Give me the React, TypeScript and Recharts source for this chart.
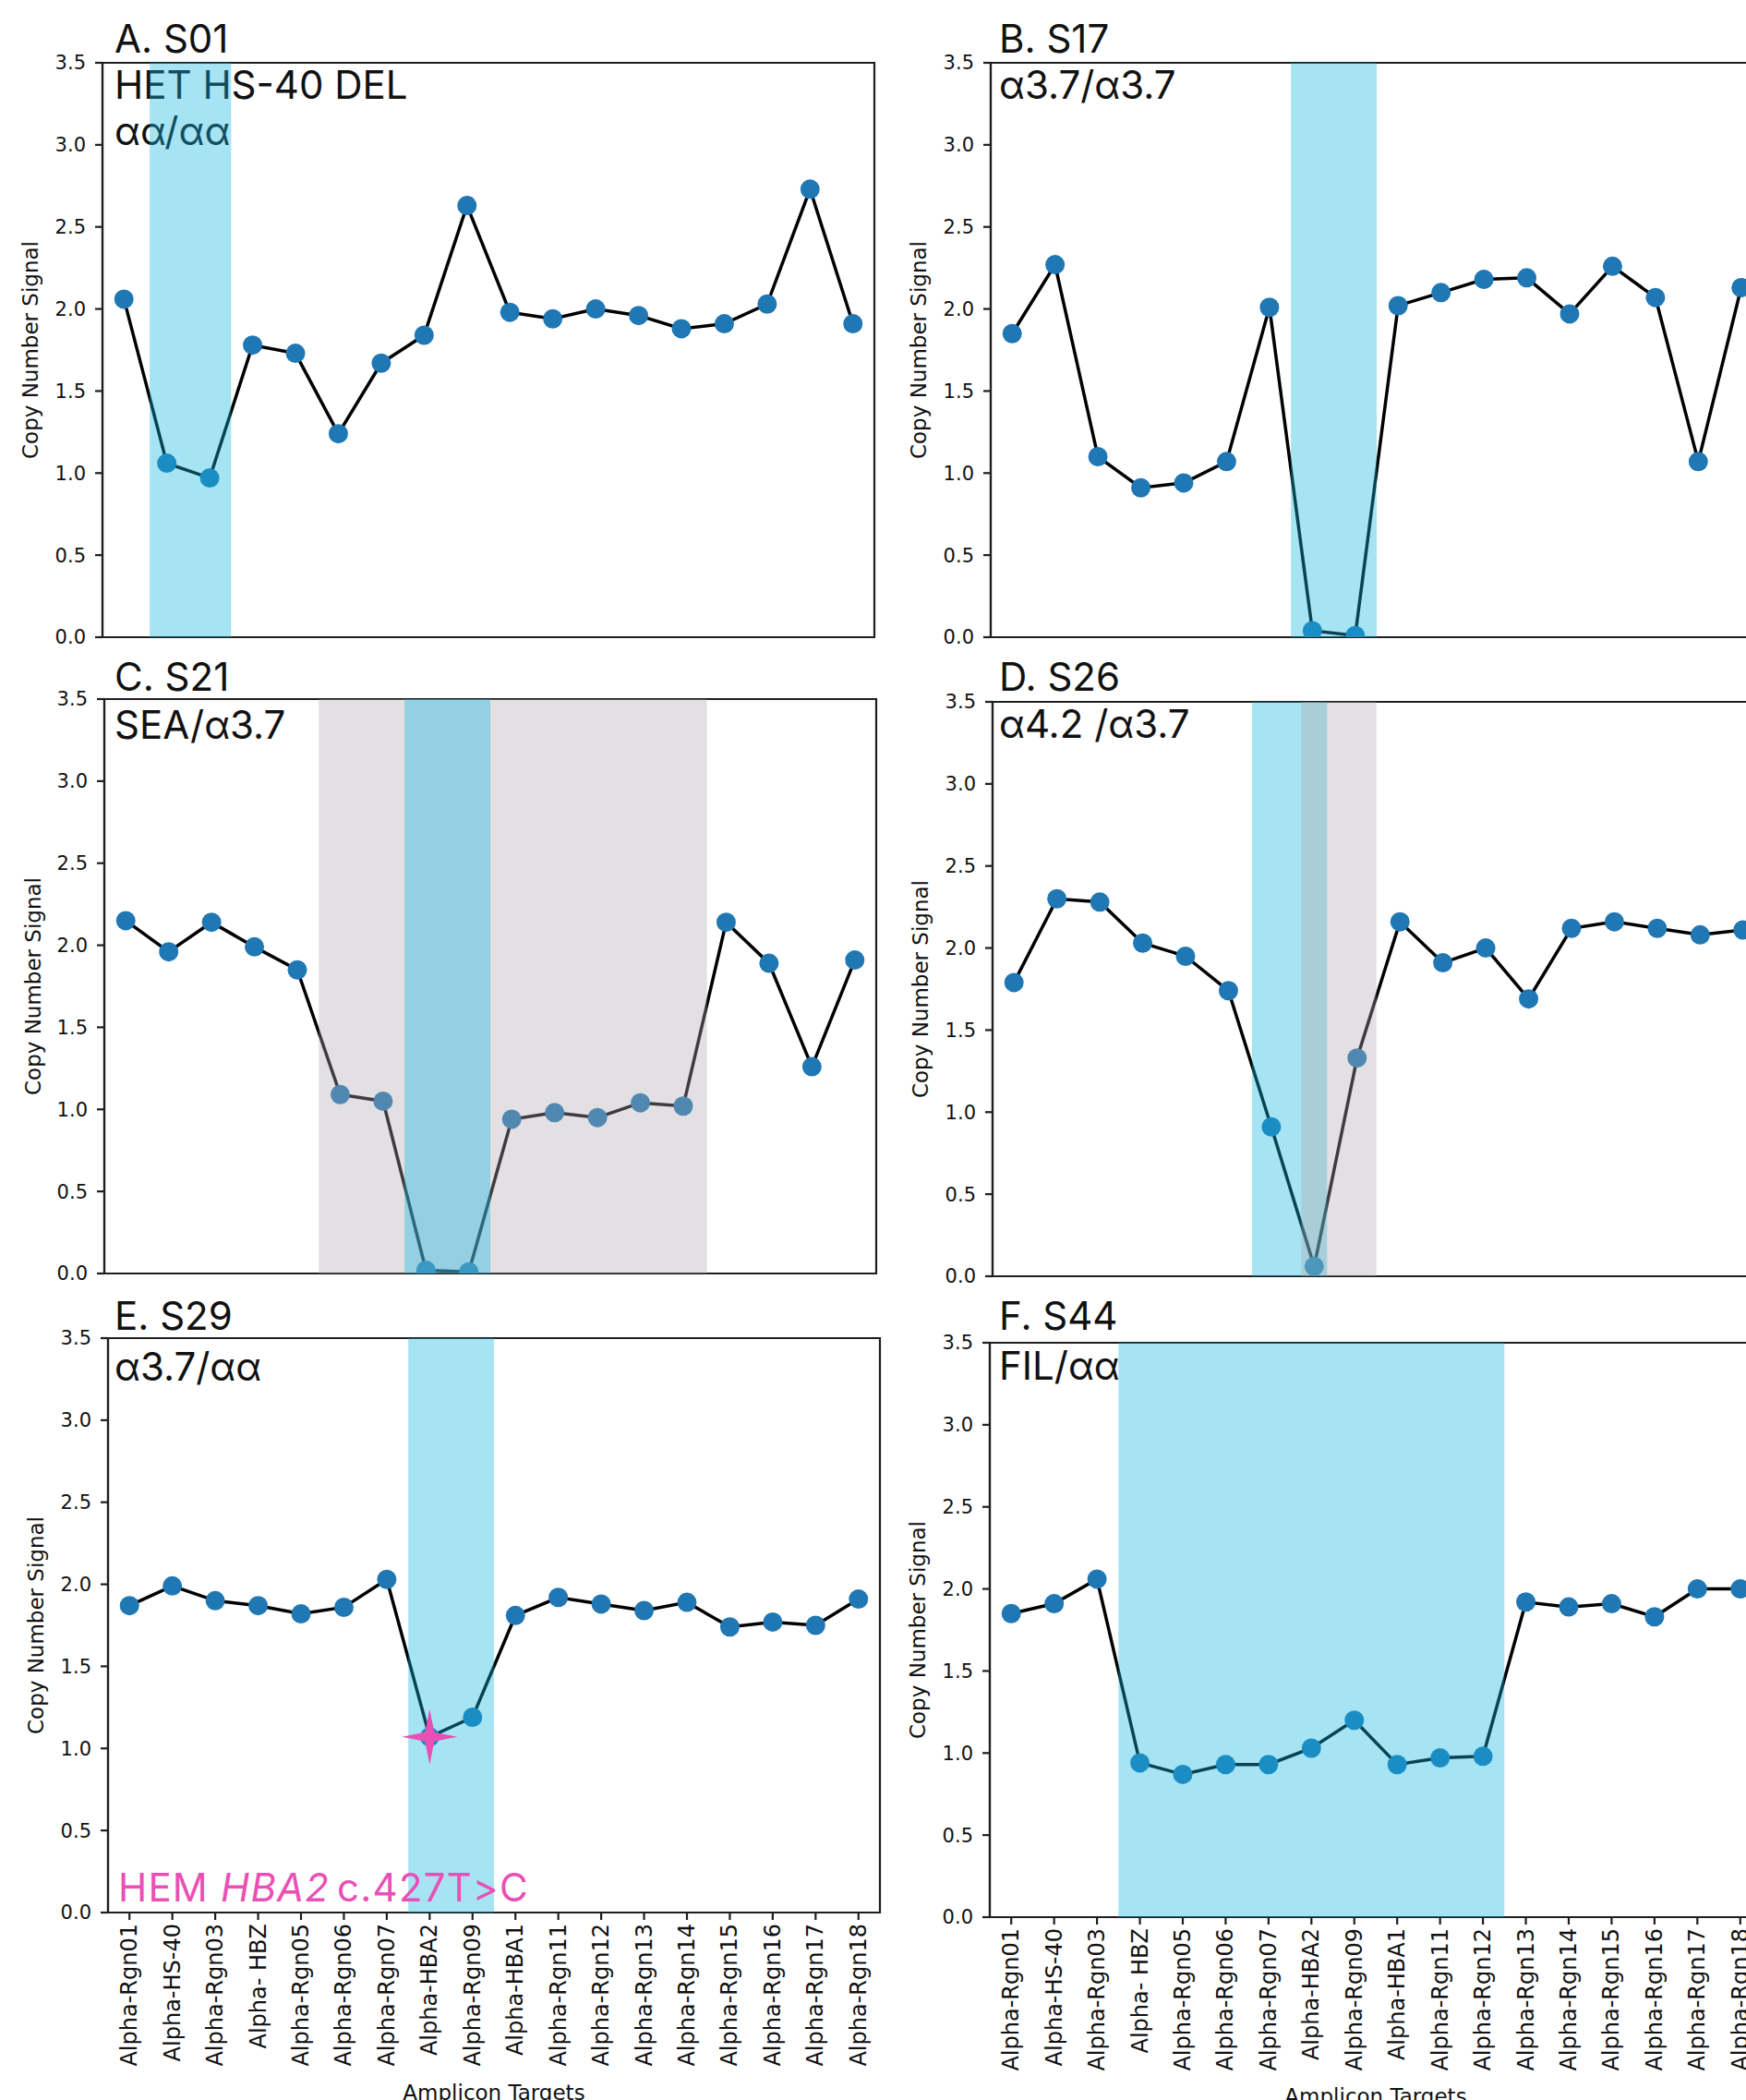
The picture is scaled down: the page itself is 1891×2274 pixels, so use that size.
import React from "react";
import { ComposedChart, Line, Scatter, XAxis, YAxis, ReferenceArea } from "recharts";

const TARGETS = [
  "Alpha-Rgn01", "Alpha-HS-40", "Alpha-Rgn03", "Alpha- HBZ", "Alpha-Rgn05", "Alpha-Rgn06",
  "Alpha-Rgn07", "Alpha-HBA2", "Alpha-Rgn09", "Alpha-HBA1", "Alpha-Rgn11", "Alpha-Rgn12",
  "Alpha-Rgn13", "Alpha-Rgn14", "Alpha-Rgn15", "Alpha-Rgn16", "Alpha-Rgn17", "Alpha-Rgn18",
];
const Y_TICKS = [0, 0.5, 1, 1.5, 2, 2.5, 3, 3.5];

// copy number signal per amplicon, one array per sample
const S01 = [2.06, 1.06, 0.97, 1.78, 1.73, 1.24, 1.67, 1.84, 2.63, 1.98, 1.94, 2.0, 1.96, 1.88, 1.91, 2.03, 2.73, 1.91];
const S17 = [1.85, 2.27, 1.1, 0.91, 0.94, 1.07, 2.01, 0.04, 0.01, 2.02, 2.1, 2.18, 2.19, 1.97, 2.26, 2.07, 1.07, 2.13];
const S21 = [2.15, 1.96, 2.14, 1.99, 1.85, 1.09, 1.05, 0.02, 0.01, 0.94, 0.98, 0.95, 1.04, 1.02, 2.14, 1.89, 1.26, 1.91];
const S26 = [1.79, 2.3, 2.28, 2.03, 1.95, 1.74, 0.91, 0.06, 1.33, 2.16, 1.91, 2.0, 1.69, 2.12, 2.16, 2.12, 2.08, 2.11];
const S29 = [1.87, 1.99, 1.9, 1.87, 1.82, 1.86, 2.03, 1.07, 1.19, 1.81, 1.92, 1.88, 1.84, 1.89, 1.74, 1.77, 1.75, 1.91];
const S44 = [1.85, 1.91, 2.06, 0.94, 0.87, 0.93, 0.93, 1.03, 1.2, 0.93, 0.97, 0.98, 1.92, 1.89, 1.91, 1.83, 2.0, 2.0];

// HBA2 point variant in S29
const S29_VARIANT = [{ i: 7, v: 1.07 }];

// deleted regions, in amplicon index units
const S01_BLUE = [0.6, 2.5];
const S17_BLUE = [6.5, 8.5];
const S21_GRAY = [4.5, 13.55];
const S21_BLUE = [6.5, 8.5];
const S26_BLUE = [5.55, 7.3];
const S26_GRAY = [6.7, 8.45];
const S29_BLUE = [6.5, 8.5];
const S44_BLUE = [2.5, 11.5];

const BLUE = "#12b4df";
const GRAY = "#aea8ae";
const PINK = "#ea4fb5";
const DOT = "#1f77b4";
const AXIS = "#1e1e1e";

const Y_W = 100;
const M_TOP = 20;
const M_RIGHT = 20;
const PLOT_W = 836;
const PLOT_H = 622;
const X_DOMAIN = [-0.5, 17.5];
const Y_DOMAIN = [0, 3.5];

type Span = { range: number[]; color: string; alpha: number };

function TargetTick(props: any) {
  const { x, y, payload } = props;
  return (
    <text
      x={x}
      y={y}
      transform={`rotate(-90 ${x} ${y})`}
      textAnchor="end"
      dominantBaseline="central"
      fontSize={24}
      fontFamily="DejaVu Sans"
      fill="#111"
    >
      {TARGETS[payload.value]}
    </text>
  );
}

function Star(props: any) {
  const { cx, cy } = props;
  const R = 30;
  const r = 5;
  const d = `M${cx},${cy - R} L${cx + r},${cy - r} L${cx + R},${cy} L${cx + r},${cy + r} L${cx},${cy + R} L${cx - r},${cy + r} L${cx - R},${cy} L${cx - r},${cy - r} Z`;
  return <path d={d} fill={PINK} />;
}

type PanelProps = {
  left: number;
  top: number;
  values: number[];
  spans: Span[];
  labels?: boolean;
  variant?: { i: number; v: number }[];
};

function Panel({ left, top, values, spans, labels, variant }: PanelProps) {
  const data = values.map((v, i) => ({ i, target: TARGETS[i], v }));
  const xH = labels ? 240 : 12;
  const W = Y_W + PLOT_W + M_RIGHT;
  const H = M_TOP + PLOT_H + xH;
  const box: React.CSSProperties = { position: "absolute", left: left - Y_W, top: top - M_TOP };
  return (
    <>
      <div style={box}>
        <ComposedChart width={W} height={H} data={data} margin={{ top: M_TOP, right: M_RIGHT, bottom: 0, left: 0 }}>
          <XAxis
            dataKey="i"
            type="number"
            domain={X_DOMAIN}
            ticks={TARGETS.map((_, i) => i)}
            interval={0}
            allowDataOverflow
            height={xH}
            tickSize={8}
            tickMargin={4}
            stroke={AXIS}
            strokeWidth={2.2}
            tick={labels ? <TargetTick /> : false}
          />
          <YAxis
            type="number"
            domain={Y_DOMAIN}
            ticks={Y_TICKS}
            interval={0}
            allowDataOverflow
            width={Y_W}
            tickSize={8}
            tickMargin={10}
            stroke={AXIS}
            strokeWidth={2.2}
            tickFormatter={(v: number) => v.toFixed(1)}
            tick={{ fontSize: 21, fill: "#111", fontFamily: "DejaVu Sans" }}
          />
          <ReferenceArea
            x1={X_DOMAIN[0]}
            x2={X_DOMAIN[1]}
            y1={Y_DOMAIN[0]}
            y2={Y_DOMAIN[1]}
            fill="none"
            stroke={AXIS}
            strokeWidth={2.2}
          />
          <Line
            dataKey="v"
            stroke="#000"
            strokeWidth={3.5}
            dot={{ r: 10.5, fill: DOT, stroke: "none", fillOpacity: 1 }}
            isAnimationActive={false}
          />
        </ComposedChart>
      </div>
      {/* translucent spans laid over the line, as in the source figure */}
      <div style={{ ...box, pointerEvents: "none" }}>
        <ComposedChart width={W} height={H} data={data} margin={{ top: M_TOP, right: M_RIGHT, bottom: xH, left: Y_W }}>
          <XAxis dataKey="i" type="number" domain={X_DOMAIN} allowDataOverflow hide />
          <YAxis type="number" domain={Y_DOMAIN} allowDataOverflow hide />
          {spans.map((s, k) => (
            <ReferenceArea
              key={k}
              x1={s.range[0]}
              x2={s.range[1]}
              y1={Y_DOMAIN[0]}
              y2={Y_DOMAIN[1]}
              fill={s.color}
              fillOpacity={s.alpha}
              stroke="none"
            />
          ))}
          {variant && <Scatter data={variant} dataKey="v" shape={<Star />} isAnimationActive={false} />}
        </ComposedChart>
      </div>
    </>
  );
}

const blue = (range: number[]): Span => ({ range, color: BLUE, alpha: 0.375 });
const gray = (range: number[]): Span => ({ range, color: GRAY, alpha: 0.357 });

const TITLE = { fontFamily: "Inter", fontSize: 42, fill: "#111" };
const AX_LABEL = { fontFamily: "DejaVu Sans", fontSize: 23, fill: "#111" };

function YLabel({ x, y }: { x: number; y: number }) {
  return (
    <text x={x} y={y} transform={`rotate(-90 ${x} ${y})`} textAnchor="middle" dominantBaseline="central" {...AX_LABEL}>
      Copy Number Signal
    </text>
  );
}

export default function App() {
  return (
    <div
      style={{
        position: "absolute",
        left: 0,
        top: 0,
        width: 1891,
        height: 2274,
        overflow: "hidden",
        background: "#fff",
      }}
    >
      <svg width={1891} height={2274} style={{ position: "absolute", left: 0, top: 0 }}>
        <text x={124} y={57} {...TITLE}>A. S01</text>
        <text x={124} y={107} {...TITLE}>HET HS-40 DEL</text>
        <text x={124} y={157} {...TITLE}>αα/αα</text>
        <text x={1082} y={57} {...TITLE}>B. S17</text>
        <text x={1082} y={107} {...TITLE}>α3.7/α3.7</text>
        <text x={124} y={748} {...TITLE}>C. S21</text>
        <text x={124} y={800} {...TITLE}>SEA/α3.7</text>
        <text x={1082} y={748} {...TITLE}>D. S26</text>
        <text x={1082} y={799} {...TITLE}>α4.2 /α3.7</text>
        <text x={124} y={1440} {...TITLE}>E. S29</text>
        <text x={124} y={1495} {...TITLE}>α3.7/αα</text>
        <text x={1082} y={1440} {...TITLE}>F. S44</text>
        <text x={1082} y={1494} {...TITLE}>FIL/αα</text>
        <YLabel x={33} y={379} />
        <YLabel x={995} y={379} />
        <YLabel x={36} y={1068} />
        <YLabel x={997} y={1071} />
        <YLabel x={39} y={1760} />
        <YLabel x={994} y={1765} />
        <text x={535} y={2274} textAnchor="middle" {...AX_LABEL}>Amplicon Targets</text>
        <text x={1490} y={2278} textAnchor="middle" {...AX_LABEL}>Amplicon Targets</text>
      </svg>
      <Panel left={111} top={68} values={S01} spans={[blue(S01_BLUE)]} />
      <Panel left={1072.5} top={68} values={S17} spans={[blue(S17_BLUE)]} />
      <Panel left={113} top={757} values={S21} spans={[gray(S21_GRAY), blue(S21_BLUE)]} />
      <Panel left={1075} top={760} values={S26} spans={[blue(S26_BLUE), gray(S26_GRAY)]} />
      <Panel left={117} top={1449} values={S29} spans={[blue(S29_BLUE)]} labels variant={S29_VARIANT} />
      <Panel left={1071.5} top={1454} values={S44} spans={[blue(S44_BLUE)]} labels />
      <svg width={1891} height={2274} style={{ position: "absolute", left: 0, top: 0, pointerEvents: "none" }}>
        <text x={128} y={2059} {...TITLE} fill={PINK} letterSpacing={1.2}>
          HEM <tspan fontStyle="italic">HBA2</tspan>
          <tspan dx={8}>c.427T&gt;C</tspan>
        </text>
      </svg>
    </div>
  );
}
